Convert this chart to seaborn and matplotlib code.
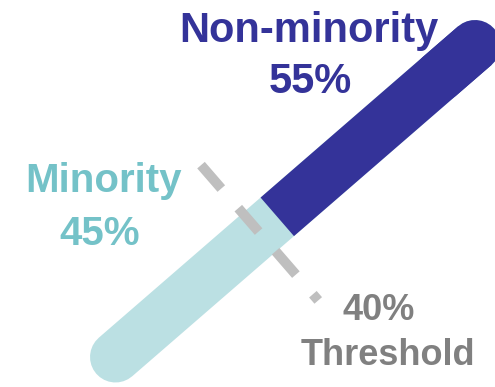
import numpy as np
import pandas as pd
import matplotlib
matplotlib.use("Agg")
import matplotlib.pyplot as plt
import seaborn as sns

# Shares of the population, drawn along one diagonal bar
categories = ["Minority", "Non-minority"]
shares = [45, 55]          # percent
threshold = 40             # percent
threshold_label = ["40%", "Threshold"]

# Colours
bar_light = "#BBE0E3"
bar_dark = "#343399"
label_light = "#74C2C8"
dash_grey = "#BFBFBF"
text_grey = "#808080"

sns.set_theme(style="white")
plt.rcParams["font.family"] = ["Liberation Sans", "DejaVu Sans"]
plt.rcParams["lines.scale_dashes"] = False

W, H = 495, 387
fig = plt.figure(figsize=(W / 100, H / 100), dpi=100)
ax = fig.add_axes([0, 0, 1, 1])

# Bar geometry in canvas pixels (y grows downward)
start = np.array([115.5, 357.0])
end = np.array([475.0, 45.5])
vec = end - start
unit = vec / np.linalg.norm(vec)
normal = np.array([-unit[1], unit[0]])
if normal[1] < 0:
    normal = -normal
bar_px = 51  # bar thickness in pixels
bar_pt = bar_px * 72 / 100


def along(p):
    """Point at p percent of the way along the bar."""
    return start + vec * p / 100.0


def segment(p0, p1):
    a, b = along(p0), along(p1)
    return pd.DataFrame({"x": [a[0], b[0]], "y": [a[1], b[1]]})


# Full bar (minority colour underneath)
sns.lineplot(data=segment(0, 100), x="x", y="y", ax=ax, color=bar_light,
             linewidth=bar_pt, solid_capstyle="round", sort=False, zorder=2)

# 40% threshold: dashed line across the bar
c = along(threshold)
p_a, p_b = c - 89 * normal, c + 90 * normal
thr = pd.DataFrame({"x": [p_a[0], p_b[0]], "y": [p_a[1], p_b[1]]})
sns.lineplot(data=thr, x="x", y="y", ax=ax, color=dash_grey, linewidth=7.2,
             linestyle=(0, (22.3, 18.7)), dash_capstyle="butt", sort=False,
             zorder=3)

# Non-minority share on top of the bar: square start, round end
split = shares[0]
sns.lineplot(data=segment(split, 100), x="x", y="y", ax=ax, color=bar_dark,
             linewidth=bar_pt, solid_capstyle="butt", sort=False, zorder=4)
sns.lineplot(data=segment(90, 100), x="x", y="y", ax=ax, color=bar_dark,
             linewidth=bar_pt, solid_capstyle="round", sort=False, zorder=4)

# Labels
bold = dict(fontweight="bold", ha="center", va="baseline", zorder=5)
ax.text(309, 42, categories[1], fontsize=30, color=bar_dark, **bold)
ax.text(310, 93, f"{shares[1]}%", fontsize=30, color=bar_dark, **bold)
ax.text(103.5, 192, categories[0], fontsize=29, color=label_light, **bold)
ax.text(100, 245, f"{shares[0]}%", fontsize=29, color=label_light, **bold)
ax.text(379, 320, threshold_label[0], fontsize=26, color=text_grey, **bold)
ax.text(387.5, 365, threshold_label[1], fontsize=26, color=text_grey, **bold)

ax.set_xlim(0, W)
ax.set_ylim(H, 0)
ax.set_axis_off()
ax.legend_ = None

fig.savefig("out.png", dpi=100, facecolor="white")
